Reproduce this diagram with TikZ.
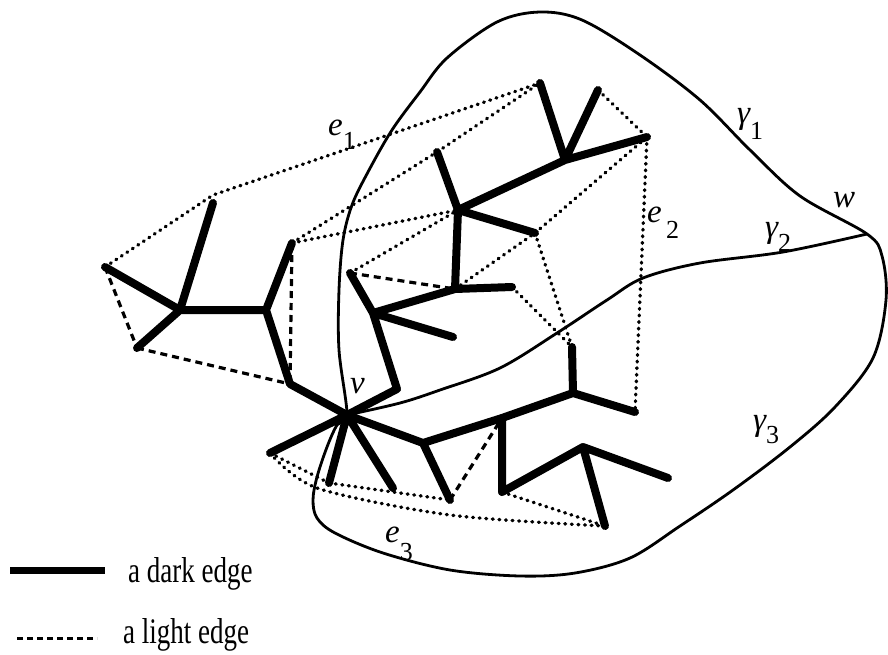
\documentclass[tikz,border=0pt]{standalone}
\usepackage{fontspec}
\setmainfont{Liberation Serif}
\usepackage{graphicx}
\newcommand\lbsub[3]{#1\raisebox{-#3pt}{\fontsize{26}{26}\selectfont\upshape #2}}
\begin{document}
\begin{tikzpicture}[x=1pt,y=-1pt,
  dark/.style={line width=8pt,line cap=round,line join=round},
  lightdot/.style={line width=3.4pt,line cap=round,dash pattern=on 0.8pt off 5.8pt},
  lightdash/.style={line width=3.2pt,dash pattern=on 7pt off 5pt},
  curve/.style={line width=2.8pt},
  lab/.style={inner sep=0pt,anchor=base west,font=\fontsize{33}{35}\selectfont\itshape},
  leg/.style={inner sep=0pt,anchor=base west}]
\useasboundingbox (0,0) rectangle (888,654);
% vertices
\coordinate (a1) at (105,267);
\coordinate (a2) at (180,310);
\coordinate (a3) at (213,203);
\coordinate (a4) at (137,348);
\coordinate (a5) at (266,310);
\coordinate (a6) at (292,243);
\coordinate (a7) at (290,384);
\coordinate (v) at (347,415);
\coordinate (s1) at (270,453);
\coordinate (s2) at (329,483);
\coordinate (s3) at (393,488);
\coordinate (b1) at (423,443);
\coordinate (b2) at (450,500);
\coordinate (b3) at (502,418);
\coordinate (c1) at (397,389);
\coordinate (c2) at (373,313);
\coordinate (c3) at (350,273);
\coordinate (c4) at (453,337);
\coordinate (c5) at (455,289);
\coordinate (c6) at (512,287);
\coordinate (d1) at (458,210);
\coordinate (d2) at (437,152);
\coordinate (d3) at (535,233);
\coordinate (d4) at (565,160);
\coordinate (d5) at (540,83);
\coordinate (d6) at (598,90);
\coordinate (d7) at (647,137);
\coordinate (r1) at (573,393);
\coordinate (r2) at (572,347);
\coordinate (r3) at (635,412);
\coordinate (w1) at (502,492);
\coordinate (w2) at (583,447);
\coordinate (w3) at (605,526);
\coordinate (w4) at (668,478);
\coordinate (w) at (867,234);
\coordinate (e1b) at (213,195);
% curves
\draw[curve] plot[smooth cycle,tension=0.55] coordinates {(v) (339,350) (339,290) (343,240) (352,205) (368,172) (392,130) (420,92) (447,58) (497,22) (540,12) (582,20) (640,55) (700,100) (750,150) (800,196) (w) (882,256) (886,300) (873,358) (835,407) (790,447) (733,490) (680,526) (630,558) (575,573) (520,576) (450,570) (383,553) (335,533) (317,518) (313,500) (317,477) (327,447) (337,425)};
\draw[curve] plot[smooth,tension=0.55] coordinates {(v) (400,403) (440,390) (500,368) (557,333) (607,300) (643,278) (700,263) (783,252) (w)};
% light edges
\draw[lightdot] (a1) -- (e1b) -- (d5);
\draw[lightdash] (a1) -- (a4);
\draw[lightdash] (a4) -- (a7);
\draw[lightdash] (a6) -- (a7);
\draw[lightdot] (a6) -- (d2) -- (d5);
\draw[lightdot] (a6) -- (d1);
\draw[lightdot] (c3) -- (d1);
\draw[lightdash] (c3) -- (c5);
\draw[lightdot] (c5) -- (d3);
\draw[lightdot] (d3) -- (d7);
\draw[lightdot] (d6) -- (d7);
\draw[lightdot] (d7) -- (r3);
\draw[lightdot] (d3) -- (r2);
\draw[lightdot] (c6) -- (r2);
\draw[lightdot] (s1) -- (s2) -- (b2);
\draw[lightdot] plot[smooth,tension=0.5] coordinates {(s1) (317,488) (450,515) (w3)};
\draw[lightdot] (w1) -- (w3);
\draw[lightdash] (b2) -- (b3);
% dark edges
\draw[dark] (a1) -- (a2) (a2) -- (a3) (a2) -- (a4) (a2) -- (a5) (a5) -- (a6) (a5) -- (a7) (a7) -- (v);
\draw[dark] (v) -- (s1) (v) -- (s2) (v) -- (s3) (v) -- (b1) (b1) -- (b2) (b1) -- (b3) (b3) -- (r1) (r1) -- (r2) (r1) -- (r3);
\draw[dark] (v) -- (c1) (c1) -- (c2) (c2) -- (c3) (c2) -- (c4) (c2) -- (c5) (c5) -- (c6) (c5) -- (d1);
\draw[dark] (d1) -- (d2) (d1) -- (d3) (d1) -- (d4) (d4) -- (d5) (d4) -- (d6) (d4) -- (d7);
\draw[dark] (b3) -- (w1) (w1) -- (w2) (w2) -- (w3) (w2) -- (w4);
% labels
\node[lab] (le1) at (328,135) {\lbsub{e}{1}{14}};
\node[lab] (le2) at (647,222) {\lbsub{e}{\,2}{16}};
\node[lab] (le3) at (385,542) {\lbsub{e}{3}{18}};
\node[lab] (lg1) at (737,123) {\lbsub{γ}{1}{16}};
\node[lab] (lg2) at (765,237) {\lbsub{γ}{2}{14}};
\node[lab] (lg3) at (753,430) {\lbsub{γ}{3}{13}};
\node[lab] (lw) at (833,207) {w};
\node[lab] (lv) at (350,393) {v};
% legend
\coordinate (k1) at (10,570);
\coordinate (k2) at (105,570);
\coordinate (k3) at (17,638);
\coordinate (k4) at (97,638);
\draw[line width=7pt] (k1) -- (k2);
\draw[line width=3pt,dash pattern=on 6pt off 4pt] (k3) -- (k4);
\node[leg] (t1) at (128,582) {\scalebox{0.75}[1]{\fontsize{36}{38}\selectfont a dark edge}};
\node[leg] (t2) at (123,643) {\scalebox{0.75}[1]{\fontsize{36}{38}\selectfont a light edge}};
\end{tikzpicture}
\end{document}
